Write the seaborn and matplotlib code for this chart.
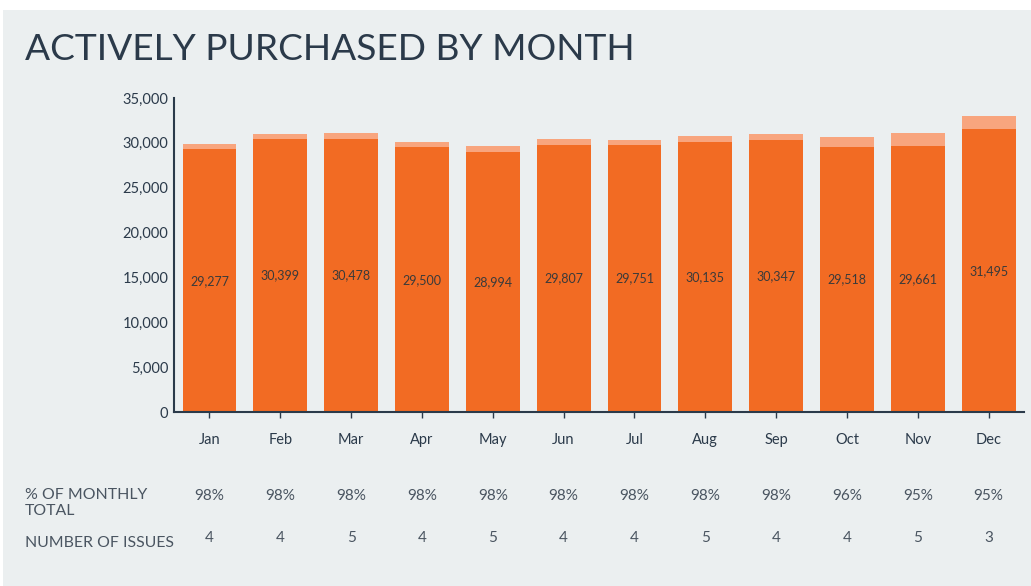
import matplotlib
matplotlib.use('Agg')
import matplotlib.pyplot as plt
import matplotlib.transforms as mtransforms
from matplotlib.patches import Rectangle
import pandas as pd
import seaborn as sns

# values
months = ['Jan', 'Feb', 'Mar', 'Apr', 'May', 'Jun', 'Jul', 'Aug', 'Sep', 'Oct', 'Nov', 'Dec']
active = [29277, 30399, 30478, 29500, 28994, 29807, 29751, 30135, 30347, 29518, 29661, 31495]
monthly_total = [29880, 31020, 31100, 30100, 29650, 30430, 30350, 30770, 30990, 30650, 31150, 32950]
pct_of_total = ['98%', '98%', '98%', '98%', '98%', '98%', '98%', '98%', '98%', '96%', '95%', '95%']
num_issues = [4, 4, 5, 4, 5, 4, 4, 5, 4, 4, 5, 3]

df = pd.DataFrame({'month': months, 'active': active, 'total': monthly_total})

sns.set_theme(style='white')
plt.rcParams['font.family'] = ['Lato', 'DejaVu Sans']

dark = '#F26B23'
light = '#F8A57E'
ink = '#2B3A4A'
grey_txt = '#4A5561'
panel = '#EBEFF0'

fig = plt.figure(figsize=(10.31, 5.86), dpi=100)
fig.patch.set_facecolor(panel)
# white margin strips round the grey panel
fig.patches.append(Rectangle((0, 1 - 10 / 586), 1, 10 / 586, transform=fig.transFigure,
                             facecolor='white', edgecolor='none', zorder=-10))
fig.patches.append(Rectangle((0, 0), 3 / 1031, 1, transform=fig.transFigure,
                             facecolor='white', edgecolor='none', zorder=-10))

ax = fig.add_axes([174 / 1031, 1 - 412 / 586, 850 / 1031, 314 / 586])
ax.set_facecolor('none')

sns.barplot(data=df, x='month', y='total', color=light, saturation=1, width=0.76,
            linewidth=0, edgecolor='none', ax=ax)
sns.barplot(data=df, x='month', y='active', color=dark, saturation=1, width=0.76,
            linewidth=0, edgecolor='none', ax=ax)
ax.bar_label(ax.containers[1], labels=[f'{v:,}' for v in active], label_type='center',
             fontsize=9, color='#3A3A3A')

ax.set_ylim(0, 35000)
ax.set_xlim(-0.5, len(months) - 0.5)
ax.set_yticks(range(0, 35001, 5000))
ax.set_yticklabels([f'{v:,}' for v in range(0, 35001, 5000)])
ax.set_xlabel('')
ax.set_ylabel('')
sns.despine(ax=ax)
for s in ['left', 'bottom']:
    ax.spines[s].set_color(ink)
    ax.spines[s].set_linewidth(1.5)
ax.tick_params(axis='y', length=0, pad=4, labelsize=10.5, labelcolor=ink)
ax.tick_params(axis='x', length=4, width=1, color=ink, pad=11, labelsize=10.5, labelcolor=ink,
               direction='out', bottom=True)

fig.text(25 / 1031, 1 - 50 / 586, 'ACTIVELY PURCHASED BY MONTH', fontsize=26.7, color=ink,
         va='center', ha='left')

trans = mtransforms.blended_transform_factory(ax.transData, fig.transFigure)
fig.text(25 / 1031, 1 - 488 / 586, '% OF MONTHLY\nTOTAL', fontsize=11.4, color=grey_txt,
         va='top', ha='left', linespacing=1.15)
fig.text(25 / 1031, 1 - 543 / 586, 'NUMBER OF ISSUES', fontsize=11.4, color=grey_txt,
         va='center', ha='left')
for i in range(len(months)):
    ax.text(i, 1 - 496 / 586, pct_of_total[i], transform=trans, fontsize=11, color=grey_txt,
            ha='center', va='center')
    ax.text(i, 1 - 538 / 586, str(num_issues[i]), transform=trans, fontsize=11, color=grey_txt,
            ha='center', va='center')

fig.savefig('out.png', dpi=100, facecolor=panel)
